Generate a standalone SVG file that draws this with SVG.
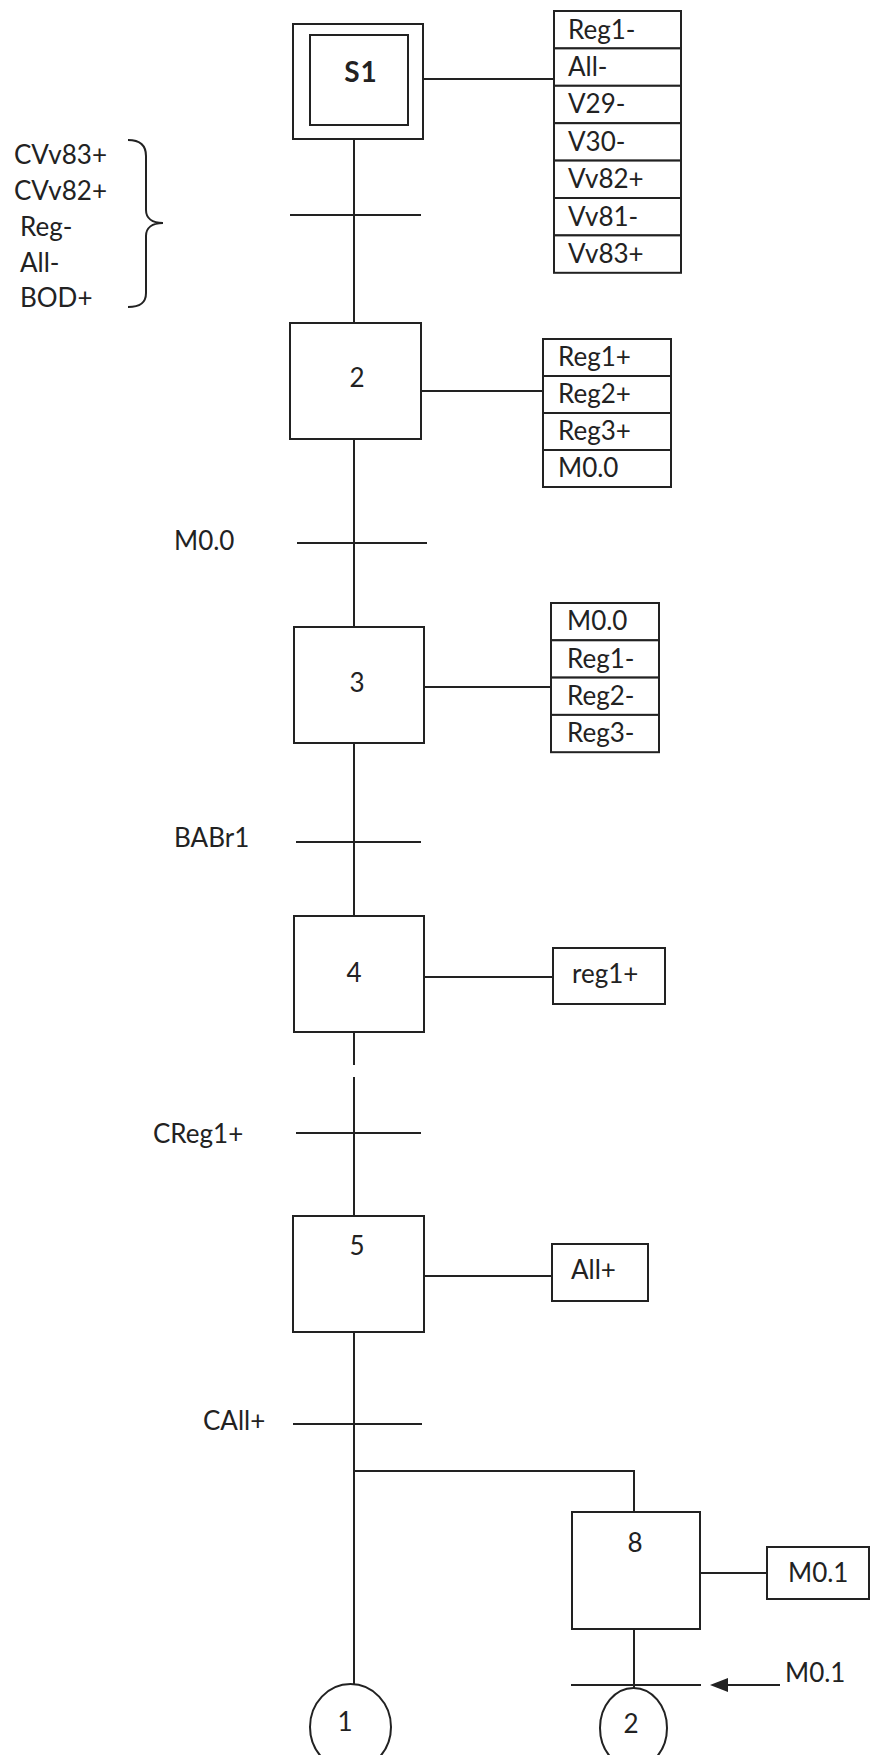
<svg xmlns="http://www.w3.org/2000/svg" width="871" height="1755" viewBox="0 0 871 1755">
<style>
  .box { fill: #ffffff; stroke: #222222; stroke-width: 2; }
  .ln { fill: none; stroke: #222222; stroke-width: 2; }
  .t { font-family: Lato, "Liberation Sans", sans-serif; font-size: 26px; fill: #222222; }
  .c { text-anchor: middle; }
  .b { font-weight: bold; font-size: 28px; letter-spacing: 1px; }
</style>
<rect x="0" y="0" width="871" height="1755" fill="#ffffff"/>

<g id="connectors">
  <line class="ln" x1="354" y1="139" x2="354" y2="323"/>
  <line class="ln" x1="423" y1="79" x2="554" y2="79"/>
  <line class="ln" x1="354" y1="439" x2="354" y2="627"/>
  <line class="ln" x1="421" y1="391" x2="543" y2="391"/>
  <line class="ln" x1="354" y1="743" x2="354" y2="916"/>
  <line class="ln" x1="424" y1="687" x2="551" y2="687"/>
  <line class="ln" x1="354" y1="1032" x2="354" y2="1065"/>
  <line class="ln" x1="354" y1="1077" x2="354" y2="1216"/>
  <line class="ln" x1="424" y1="977" x2="553" y2="977"/>
  <line class="ln" x1="354" y1="1332" x2="354" y2="1685"/>
  <line class="ln" x1="424" y1="1276" x2="552" y2="1276"/>
  <polyline class="ln" points="354,1471 634,1471 634,1512"/>
  <line class="ln" x1="700" y1="1573" x2="767" y2="1573"/>
  <line class="ln" x1="634" y1="1629" x2="634" y2="1688"/>
  <line class="ln" x1="780" y1="1685" x2="726" y2="1685"/>
  <polygon points="710,1685 728,1678 728,1692" fill="#222222"/>
</g>

<g id="transition-1">
  <line class="ln" x1="290" y1="215" x2="421" y2="215"/>
  <text class="t" x="14" y="164">CVv83+</text>
  <text class="t" x="14" y="200">CVv82+</text>
  <text class="t" x="20" y="236">Reg-</text>
  <text class="t" x="20" y="272">All-</text>
  <text class="t" x="20" y="307">BOD+</text>
  <path class="ln" d="M128,140 C140,140 146,145 146,156 L146,210 C146,218 152,223 163,223 C152,223 146,228 146,236 L146,293 C146,303 140,307 128,307"/>
</g>

<g id="step-S1">
  <rect class="box" x="293" y="24" width="130" height="115"/>
  <rect class="box" x="310" y="35" width="98" height="90"/>
  <text class="t c b" x="361" y="82">S1</text>
</g>
<g id="actions-S1">
  <rect class="box" x="554" y="11" width="127" height="37.4"/>
  <rect class="box" x="554" y="48.4" width="127" height="37.4"/>
  <rect class="box" x="554" y="85.8" width="127" height="37.4"/>
  <rect class="box" x="554" y="123.2" width="127" height="37.4"/>
  <rect class="box" x="554" y="160.6" width="127" height="37.4"/>
  <rect class="box" x="554" y="198" width="127" height="37.4"/>
  <rect class="box" x="554" y="235.4" width="127" height="37.4"/>
  <text class="t" x="568" y="39">Reg1-</text>
  <text class="t" x="568" y="76">All-</text>
  <text class="t" x="568" y="113">V29-</text>
  <text class="t" x="568" y="151">V30-</text>
  <text class="t" x="568" y="188">Vv82+</text>
  <text class="t" x="568" y="226">Vv81-</text>
  <text class="t" x="568" y="263">Vv83+</text>
</g>

<g id="step-2">
  <rect class="box" x="290" y="323" width="131" height="116"/>
  <text class="t c" x="357" y="387">2</text>
</g>
<g id="actions-2">
  <rect class="box" x="543" y="339" width="128" height="37"/>
  <rect class="box" x="543" y="376" width="128" height="37"/>
  <rect class="box" x="543" y="413" width="128" height="37"/>
  <rect class="box" x="543" y="450" width="128" height="37"/>
  <text class="t" x="558" y="366">Reg1+</text>
  <text class="t" x="558" y="403">Reg2+</text>
  <text class="t" x="558" y="440">Reg3+</text>
  <text class="t" x="558" y="477">M0.0</text>
</g>

<g id="transition-2">
  <line class="ln" x1="297" y1="543" x2="427" y2="543"/>
  <text class="t" x="174" y="550">M0.0</text>
</g>

<g id="step-3">
  <rect class="box" x="294" y="627" width="130" height="116"/>
  <text class="t c" x="357" y="692">3</text>
</g>
<g id="actions-3">
  <rect class="box" x="551" y="603" width="108" height="37.3"/>
  <rect class="box" x="551" y="640.3" width="108" height="37.3"/>
  <rect class="box" x="551" y="677.6" width="108" height="37.3"/>
  <rect class="box" x="551" y="714.9" width="108" height="37.3"/>
  <text class="t" x="567" y="630">M0.0</text>
  <text class="t" x="567" y="668">Reg1-</text>
  <text class="t" x="567" y="705">Reg2-</text>
  <text class="t" x="567" y="742">Reg3-</text>
</g>

<g id="transition-3">
  <line class="ln" x1="296" y1="842" x2="421" y2="842"/>
  <text class="t" x="174" y="847">BABr1</text>
</g>

<g id="step-4">
  <rect class="box" x="294" y="916" width="130" height="116"/>
  <text class="t c" x="354" y="982">4</text>
</g>
<g id="actions-4">
  <rect class="box" x="553" y="948" width="112" height="56"/>
  <text class="t" x="572" y="983">reg1+</text>
</g>

<g id="transition-4">
  <line class="ln" x1="296" y1="1133" x2="421" y2="1133"/>
  <text class="t" x="153" y="1143">CReg1+</text>
</g>

<g id="step-5">
  <rect class="box" x="293" y="1216" width="131" height="116"/>
  <text class="t c" x="357" y="1255">5</text>
</g>
<g id="actions-5">
  <rect class="box" x="552" y="1244" width="96" height="57"/>
  <text class="t" x="571" y="1279">All+</text>
</g>

<g id="transition-5">
  <line class="ln" x1="293" y1="1424" x2="422" y2="1424"/>
  <text class="t" x="203" y="1430">CAll+</text>
</g>

<g id="step-8">
  <rect class="box" x="572" y="1512" width="128" height="117"/>
  <text class="t c" x="635" y="1552">8</text>
</g>
<g id="actions-8">
  <rect class="box" x="767" y="1547" width="102" height="52"/>
  <text class="t" x="788" y="1582">M0.1</text>
</g>

<g id="transition-8">
  <line class="ln" x1="571" y1="1685" x2="701" y2="1685"/>
  <text class="t" x="785" y="1682">M0.1</text>
</g>

<g id="connector-1">
  <ellipse class="box" cx="350.5" cy="1727" rx="40.5" ry="43"/>
  <text class="t c" x="345" y="1731">1</text>
</g>
<g id="connector-2">
  <ellipse class="box" cx="633.5" cy="1728" rx="33.5" ry="40"/>
  <text class="t c" x="631" y="1733">2</text>
</g>
</svg>
